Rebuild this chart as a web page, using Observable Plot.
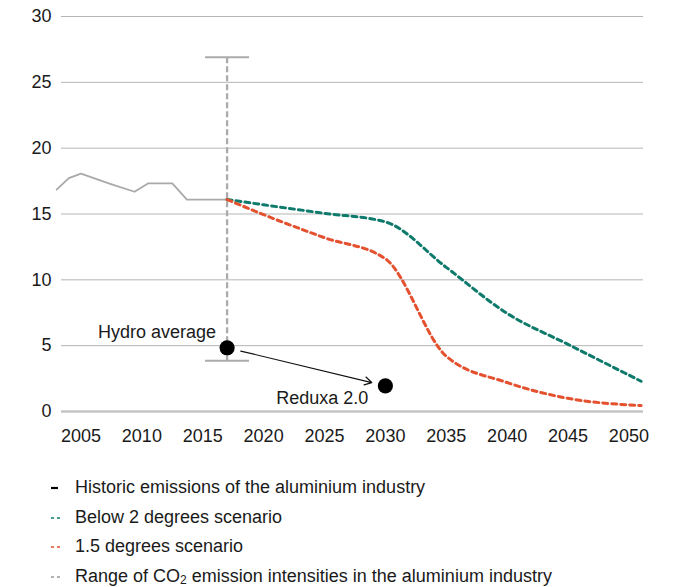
<!DOCTYPE html>
<html>
<head>
<meta charset="utf-8">
<script src="https://cdn.jsdelivr.net/npm/d3@7"></script>
<script src="https://cdn.jsdelivr.net/npm/@observablehq/plot@0.6"></script>
<style>
  body { margin: 0; background: #fff; font-family: "Liberation Sans", Arial, sans-serif; color: #1a1a1a; }
  #chart svg { display: block; }
  .legend { margin-top: 21px; padding-left: 50px; font-size: 18px; }
  .legend .row { height: 29.7px; line-height: 29.7px; display: flex; align-items: center; }
  .legend .row svg { width: 25px; height: 12px; flex: none; }
  .legend sub { font-size: 12px; vertical-align: -2px; line-height: 12px; }
</style>
</head>
<body>
<div id="chart"></div>
<div class="legend" id="legend"></div>
<script>
// ---- data ----
const histYears  = [2003, 2004, 2005, 2007.4, 2009.4, 2010.5, 2012.5, 2013.7, 2017];
const histValues = [16.85, 17.73, 18.06, 17.29, 16.69, 17.32, 17.32, 16.09, 16.09];

const scenarioYears   = [2017, 2020, 2025, 2030, 2035, 2040, 2045, 2051];
const below2Values    = [16.1, 15.7, 15.05, 14.4, 10.95, 7.45, 5.1, 2.3];
const onePoint5Values = [16.1, 14.95, 13.2, 11.6, 4.2, 2.2, 1.0, 0.45];

const rangeYear = 2017;
const rangeLow  = 3.85;
const rangeHigh = 26.9;

const pointNames  = ["Hydro average", "Reduxa 2.0"];
const pointYears  = [2017, 2030];
const pointValues = [4.84, 1.95];

const xTicks = [2005, 2010, 2015, 2020, 2025, 2030, 2035, 2040, 2045, 2050];
const yTicks = [0, 5, 10, 15, 20, 25, 30];

const legendLabels = [
  "Historic emissions of the aluminium industry",
  "Below 2 degrees scenario",
  "1.5 degrees scenario",
  "Range of CO<sub>2</sub> emission intensities in the aluminium industry"
];

// ---- tables built from the arrays ----
const hist = histYears.map((y, i) => ({year: y, value: histValues[i]}));
const below2 = scenarioYears.map((y, i) => ({year: y, value: below2Values[i]}));
const onePoint5 = scenarioYears.map((y, i) => ({year: y, value: onePoint5Values[i]}));
const points = pointNames.map((n, i) => ({name: n, year: pointYears[i], value: pointValues[i]}));
const rangeRow = [{year: rangeYear, low: rangeLow, high: rangeHigh}];
const caps = [{year: rangeYear, value: rangeLow}, {year: rangeYear, value: rangeHigh}];
const arrowRow = [{x1: pointYears[0], y1: pointValues[0], x2: pointYears[1], y2: pointValues[1]}];

const GREEN = "#0e7a6b", RED = "#e4512f", GRAY = "#ababab";

const capSymbol = {
  draw(context) { context.moveTo(-22, 0); context.lineTo(22, 0); }
};

const chart = Plot.plot({
  width: 673,
  height: 452,
  marginLeft: 61,
  marginRight: 30,
  marginTop: 16,
  marginBottom: 41,
  style: {fontSize: "18px", fontFamily: "'Liberation Sans', Arial, sans-serif", color: "#1a1a1a", background: "#fff"},
  x: {domain: [2003.4, 2051.2]},
  y: {domain: [0, 30]},
  marks: [
    Plot.gridY(yTicks.filter(d => d > 0), {stroke: "#b5b5b5", strokeOpacity: 1, strokeWidth: 1}),
    Plot.ruleY([0], {stroke: "#c4c4c4", strokeWidth: 2.5}),
    Plot.axisY(yTicks, {tickSize: 0, tickPadding: 10, label: null, fontSize: 18}),
    Plot.axisX(xTicks, {tickSize: 0, tickPadding: 18, label: null, fontSize: 18, tickFormat: d => String(d)}),
    Plot.ruleX(rangeRow, {x: "year", y1: "low", y2: "high", stroke: GRAY, strokeWidth: 2.3, strokeDasharray: "6,3"}),
    Plot.dot(caps, {x: "year", y: "value", symbol: capSymbol, fill: "none", stroke: GRAY, strokeWidth: 2}),
    Plot.line(hist, {x: "year", y: "value", stroke: "#a9a9a9", strokeWidth: 1.8}),
    Plot.line(below2, {x: "year", y: "value", stroke: GREEN, strokeWidth: 3, strokeDasharray: "5,4", curve: "monotone-x"}),
    Plot.line(onePoint5, {x: "year", y: "value", stroke: RED, strokeWidth: 3, strokeDasharray: "5,4", curve: "monotone-x"}),
    Plot.arrow(arrowRow, {x1: "x1", y1: "y1", x2: "x2", y2: "y2", bend: 0, insetStart: 14, insetEnd: 14, headLength: 10, stroke: "#111", strokeWidth: 1.2}),
    Plot.dot(points, {x: "year", y: "value", r: 7.6, fill: "#000"}),
    Plot.text(points.filter((d, i) => i === 0), {x: "year", y: "value", text: "name", textAnchor: "end", dx: -11, dy: -16, fontSize: 18, fill: "#1a1a1a"}),
    Plot.text(points.filter((d, i) => i === 1), {x: "year", y: "value", text: "name", textAnchor: "end", dx: -17, dy: 12, fontSize: 18, fill: "#1a1a1a"})
  ]
});
document.getElementById("chart").appendChild(chart);

// ---- legend ----
const markers = [
  '<line x1="1" x2="8" y1="6" y2="6" stroke="#000" stroke-width="2.2"/>',
  `<line x1="1" x2="10" y1="6" y2="6" stroke="${GREEN}" stroke-width="1.4" stroke-dasharray="3,3"/>`,
  `<line x1="1" x2="10" y1="6" y2="6" stroke="${RED}" stroke-width="1.4" stroke-dasharray="3,3"/>`,
  `<line x1="1" x2="10" y1="6" y2="6" stroke="#999" stroke-width="1.4" stroke-dasharray="3,3"/>`
];
const legend = document.getElementById("legend");
legendLabels.forEach((lab, i) => {
  const row = document.createElement("div");
  row.className = "row";
  row.innerHTML = `<svg viewBox="0 0 25 12">${markers[i]}</svg><span>${lab}</span>`;
  legend.appendChild(row);
});
</script>
</body>
</html>
